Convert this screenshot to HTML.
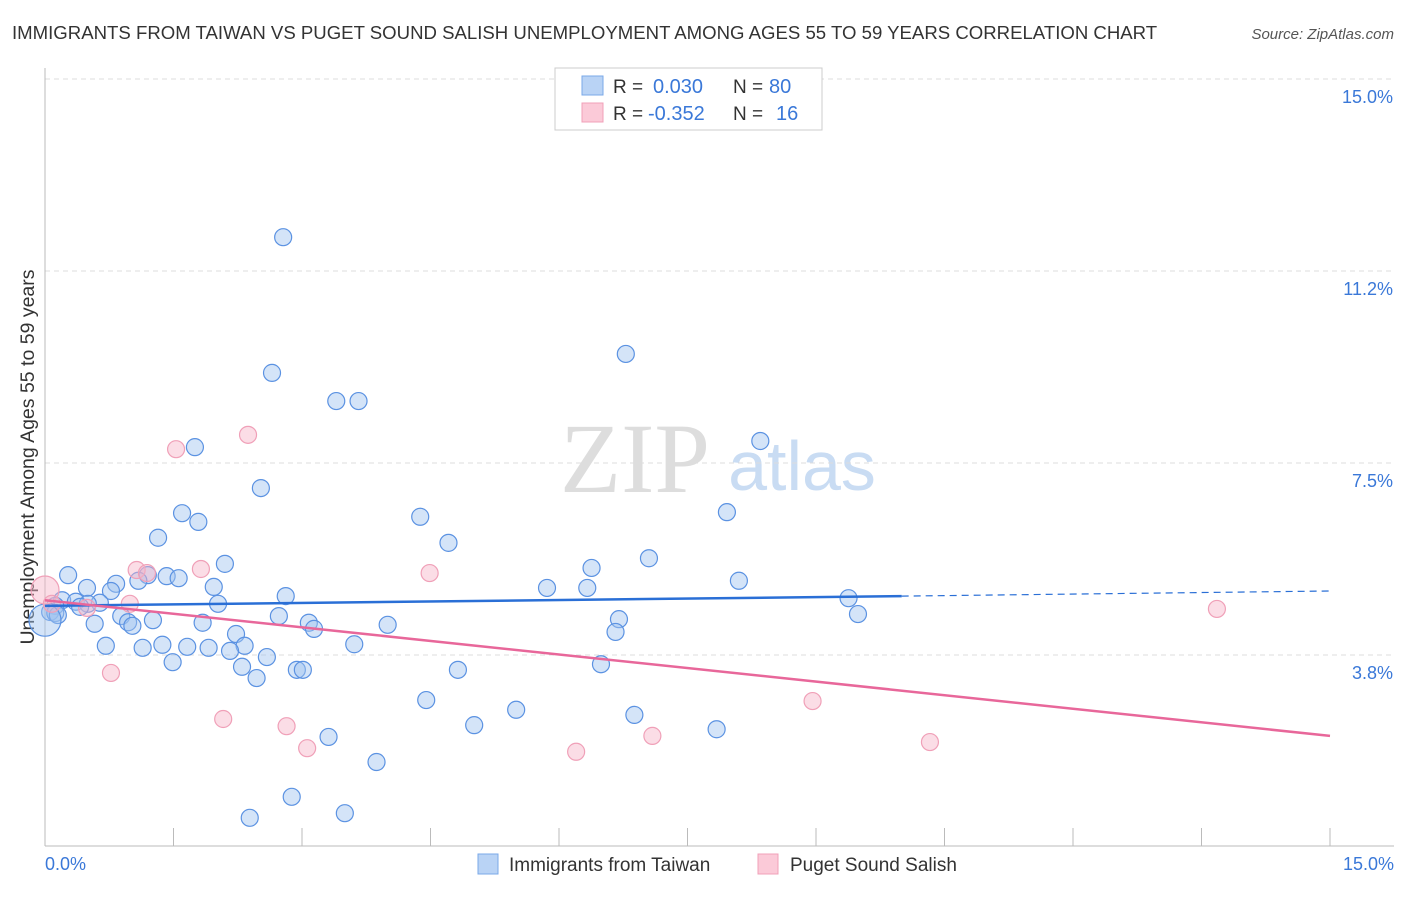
<!DOCTYPE html>
<html><head><meta charset="utf-8"><style>
body{margin:0;background:#fff;font-family:"Liberation Sans",sans-serif;}
</style></head><body>
<svg width="1406" height="892" viewBox="0 0 1406 892" xmlns="http://www.w3.org/2000/svg" font-family="Liberation Sans, sans-serif">
<text x="12" y="39" font-size="18.6" fill="#333">IMMIGRANTS FROM TAIWAN VS PUGET SOUND SALISH UNEMPLOYMENT AMONG AGES 55 TO 59 YEARS CORRELATION CHART</text>
<text x="1394" y="39" font-size="15" fill="#555" font-style="italic" text-anchor="end">Source: ZipAtlas.com</text>
<text x="635" y="492" font-size="100" fill="#ddd" style="font-family:'Liberation Serif',serif" text-anchor="middle">ZIP</text>
<text x="802" y="490" font-size="70" fill="#c9dcf3" text-anchor="middle">atlas</text>
<g id="grid"></g>
<line x1="45" y1="68" x2="45" y2="846" stroke="#bbb"/>
<line x1="45" y1="846" x2="1394" y2="846" stroke="#bbb"/>
<g id="xticks"></g>
<text x="45" y="870" font-size="18" fill="#3a78d8">0.0%</text>
<text x="1394" y="870" font-size="18" fill="#3a78d8" text-anchor="end">15.0%</text>
<text transform="translate(34,457) rotate(-90)" font-size="19.5" fill="#333" text-anchor="middle">Unemployment Among Ages 55 to 59 years</text>
<g id="pts"></g>
<g id="lines"></g>
<g>
<rect x="555" y="68" width="267" height="62" fill="#fff" stroke="#ccc"/>
<rect x="582" y="76" width="21" height="19" fill="#b9d3f5" stroke="#7aa8e8"/>
<rect x="582" y="103" width="21" height="19" fill="#fbcad8" stroke="#f0a0b8"/>
<text x="613" y="93" font-size="19" fill="#333">R =</text><text x="653" y="93" font-size="20" fill="#3a78d8">0.030</text>
<text x="733" y="93" font-size="19" fill="#333">N =</text><text x="769" y="93" font-size="20" fill="#3a78d8">80</text>
<text x="613" y="120" font-size="19" fill="#333">R =</text><text x="648" y="120" font-size="20" fill="#3a78d8">-0.352</text>
<text x="733" y="120" font-size="19" fill="#333">N =</text><text x="776" y="120" font-size="20" fill="#3a78d8">16</text>
</g>
<g>
<rect x="478" y="854" width="20" height="20" fill="#b9d3f5" stroke="#7aa8e8"/>
<text x="509" y="871" font-size="19" fill="#333">Immigrants from Taiwan</text>
<rect x="758" y="854" width="20" height="20" fill="#fbcad8" stroke="#f0a0b8"/>
<text x="790" y="871" font-size="19" fill="#333">Puget Sound Salish</text>
</g>
</svg>
<script>
const yTicks=[15.0,11.25,7.5,3.75];
const yTickLabels=["15.0%","11.2%","7.5%","3.8%"];
const xTicks=[0,1.5,3,4.5,6,7.5,9,10.5,12,13.5,15];
const blueX=[2.78,6.78,2.65,3.40,3.66,1.75,8.35,2.52,1.60,1.79,4.38,7.96,1.32,4.71,7.05,2.10,6.38,0.27,1.20,1.42,1.56,1.09,0.83,0.49,1.97,5.86,6.33,8.10,0.77,2.81,0.20,0.36,0.64,0.50,2.02,9.38,0.12,0.41,0.89,2.73,0.06,0.12,0.15,1.26,0.97,1.84,0.58,1.02,3.08,3.14,4.00,6.70,9.49,6.66,2.23,2.33,0.71,1.14,1.37,1.66,1.91,2.16,3.61,2.59,1.49,2.30,2.94,3.01,6.49,4.82,2.47,4.45,5.50,6.88,5.01,7.84,3.31,3.87,2.88,2.39,3.50,0.0];
const blueY=[11.91,9.63,9.26,8.71,8.71,7.81,7.93,7.01,6.52,6.35,6.45,6.54,6.04,5.94,5.64,5.53,5.45,5.31,5.31,5.29,5.25,5.20,5.14,5.06,5.08,5.06,5.06,5.20,5.00,4.90,4.82,4.79,4.77,4.75,4.75,4.86,4.71,4.69,4.51,4.51,4.59,4.57,4.53,4.43,4.39,4.38,4.36,4.32,4.38,4.26,4.34,4.45,4.55,4.20,4.16,3.93,3.93,3.89,3.95,3.91,3.89,3.83,3.96,3.71,3.61,3.52,3.46,3.46,3.57,3.46,3.30,2.87,2.68,2.58,2.38,2.30,2.15,1.66,0.98,0.57,0.66,4.43];
const pinkX=[0.0,0.99,0.08,0.49,1.07,1.19,1.82,1.53,2.37,4.49,0.77,2.08,2.82,3.06,6.20,7.09,8.96,10.33,13.68];
const pinkY=[5.02,4.75,4.75,4.67,5.41,5.35,5.43,7.77,8.05,5.35,3.40,2.50,2.36,1.93,1.86,2.17,2.85,2.05,4.65];
const blueTrend=[[0,4.71],[10.0,4.90],[15,5.0]];
const pinkTrend=[[0,4.82],[15,2.17]];
const NS="http://www.w3.org/2000/svg";
const X=v=>45+v/15*1285, Y=v=>847-v*51.2;
function mk(t,a,p){const e=document.createElementNS(NS,t);for(const k in a)e.setAttribute(k,a[k]);p.appendChild(e);return e;}
const g=document.getElementById('grid');
yTicks.forEach((v,i)=>{
 const l=mk('line',{x1:45,x2:1394,y1:Y(v),y2:Y(v),stroke:'#ddd','stroke-dasharray':'5,4'},g);
 
 
 const t=mk('text',{x:1393,y:Y(v)+24,'font-size':18,fill:'#3a78d8','text-anchor':'end'},g);
 t.textContent=yTickLabels[i];
 
 
});
const xt=document.getElementById('xticks');
xTicks.forEach(v=>{
 const l=mk('line',{x1:X(v),x2:X(v),y1:828,y2:846,stroke:'#bbb'},xt);
 
 
});
const p=document.getElementById('pts');
blueX.forEach((v,i)=>{
 const r=i===blueX.length-1?16:8.5;
 const c=mk('circle',{cx:X(v),cy:Y(blueY[i]),r:r,fill:'rgba(160,195,240,0.45)',stroke:'#5b92e2','stroke-width':1.2},p);
 
 
});
pinkX.forEach((v,i)=>{
 const r=i===0?14:8.5;
 const c=mk('circle',{cx:X(v),cy:Y(pinkY[i]),r:r,fill:'rgba(247,180,200,0.45)',stroke:'#f0a0b8','stroke-width':1.2},p);
 
 
});
const L=document.getElementById('lines');
let a=mk('line',{x1:X(blueTrend[0][0]),y1:Y(blueTrend[0][1]),x2:X(blueTrend[1][0]),y2:Y(blueTrend[1][1]),stroke:'#2a6fd6','stroke-width':2.5},L);


a=mk('line',{x1:X(blueTrend[1][0]),y1:Y(blueTrend[1][1]),x2:X(blueTrend[2][0]),y2:Y(blueTrend[2][1]),stroke:'#2a6fd6','stroke-width':1.2,'stroke-dasharray':'7,5'},L);


a=mk('line',{x1:X(pinkTrend[0][0]),y1:Y(pinkTrend[0][1]),x2:X(pinkTrend[1][0]),y2:Y(pinkTrend[1][1]),stroke:'#e8679a','stroke-width':2.5},L);


</script>
</body></html>
